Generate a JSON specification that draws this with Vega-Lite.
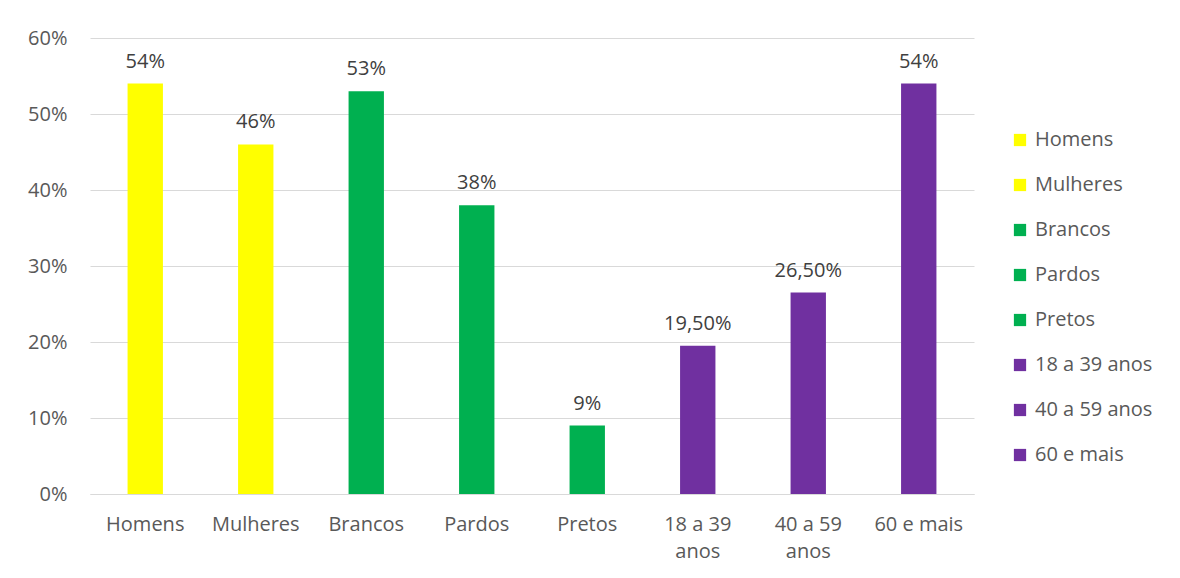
{
  "$schema": "https://vega.github.io/schema/vega-lite/v6.json",
  "width": 884,
  "height": 456,
  "autosize": {"type": "none"},
  "padding": {"left": 90, "top": 38, "right": 206, "bottom": 84},
  "background": "white",
  "data": {
    "values": [
      {"categoria": "Homens", "valor": 0.54, "rotulo": "54%"},
      {"categoria": "Mulheres", "valor": 0.46, "rotulo": "46%"},
      {"categoria": "Brancos", "valor": 0.53, "rotulo": "53%"},
      {"categoria": "Pardos", "valor": 0.38, "rotulo": "38%"},
      {"categoria": "Pretos", "valor": 0.09, "rotulo": "9%"},
      {"categoria": "18 a 39 anos", "valor": 0.195, "rotulo": "19,50%"},
      {"categoria": "40 a 59 anos", "valor": 0.265, "rotulo": "26,50%"},
      {"categoria": "60 e mais", "valor": 0.54, "rotulo": "54%"}
    ]
  },
  "encoding": {
    "x": {
      "field": "categoria",
      "type": "nominal",
      "sort": null,
      "scale": {"paddingInner": 0.68, "paddingOuter": 0.34},
      "axis": {
        "title": null,
        "labelAngle": 0,
        "ticks": false,
        "domainColor": "#d9d9d9",
        "domainWidth": 1,
        "labelFont": "Open Sans",
        "labelFontSize": 20,
        "labelColor": "#595959",
        "labelPadding": 20,
        "labelLineHeight": 27,
        "labelExpr": "indexof(datum.label, ' anos') > 0 ? [replace(datum.label, ' anos', ''), 'anos'] : datum.label"
      }
    },
    "y": {
      "field": "valor",
      "type": "quantitative",
      "scale": {"domain": [0, 0.6]},
      "axis": {
        "title": null,
        "format": ".0%",
        "values": [0, 0.1, 0.2, 0.3, 0.4, 0.5, 0.6],
        "ticks": false,
        "domain": false,
        "gridColor": "#d9d9d9",
        "gridWidth": 1,
        "labelFont": "Open Sans",
        "labelFontSize": 20,
        "labelColor": "#595959",
        "labelPadding": 23
      }
    }
  },
  "layer": [
    {
      "mark": {"type": "bar"},
      "encoding": {
        "color": {
          "field": "categoria",
          "type": "nominal",
          "sort": null,
          "scale": {
            "domain": ["Homens", "Mulheres", "Brancos", "Pardos", "Pretos", "18 a 39 anos", "40 a 59 anos", "60 e mais"],
            "range": ["#FFFF00", "#FFFF00", "#00B050", "#00B050", "#00B050", "#7030A0", "#7030A0", "#7030A0"]
          },
          "legend": {
            "title": null,
            "orient": "none",
            "legendX": 920,
            "legendY": 92,
            "symbolType": "square",
            "symbolSize": 150,
            "symbolStrokeWidth": 0,
            "labelFont": "Open Sans",
            "labelFontSize": 20,
            "labelColor": "#595959",
            "labelOffset": 5,
            "rowPadding": 25,
            "labelLimit": 300
          }
        }
      }
    },
    {
      "mark": {"type": "text", "dy": -12, "baseline": "bottom", "font": "Open Sans", "fontSize": 20, "color": "#404040"},
      "encoding": {"text": {"field": "rotulo"}}
    }
  ],
  "config": {"view": {"stroke": null}}
}
